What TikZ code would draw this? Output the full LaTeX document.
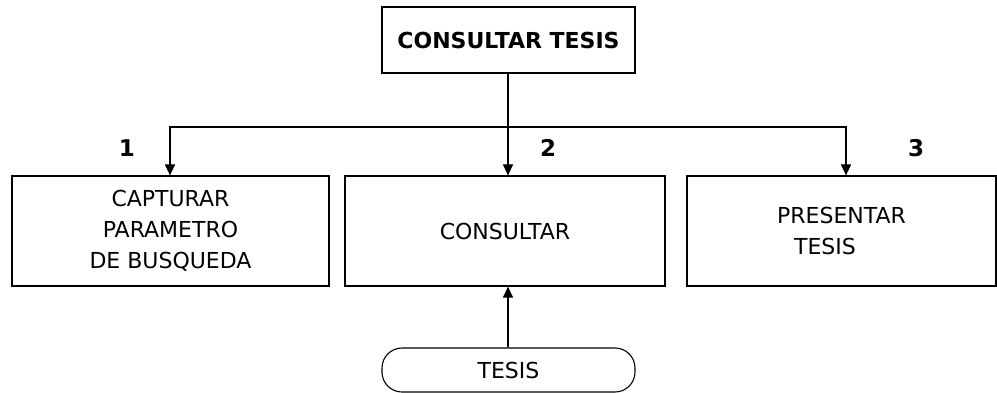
\documentclass[tikz,border=0pt]{standalone}
\usepackage{fontspec}
\setmainfont{DejaVu Sans}
\usepackage{tikz}
\usetikzlibrary{positioning, calc, arrows.meta}

\tikzset{
  proc/.style={draw, line width=1.2pt, align=center, inner sep=0pt,
    font=\fontsize{22}{31}\selectfont},
  tnum/.style={font=\bfseries\fontsize{23}{26}\selectfont},
  store/.style={draw, line width=1.1pt, rounded corners=20pt, inner sep=0pt,
    font=\fontsize{22}{26}\selectfont}
}

\begin{document}
\begin{tikzpicture}[x=1pt, y=-1pt, >={Triangle[length=11pt,width=10pt]}]
        \useasboundingbox (0,0) rectangle (997,392);

        % Main box
        \node[proc, minimum width=253pt, minimum height=66pt,
          font=\bfseries\fontsize{22}{26}\selectfont] (main) at (508.5,40) {CONSULTAR TESIS};

        % Sub processes
        \node[proc, minimum width=317pt, minimum height=110pt] (cap) at (170.5,231)
          {CAPTURAR\\PARAMETRO\\DE BUSQUEDA};
        \node[proc, minimum width=320pt, minimum height=110pt] (con) at (505,231) {CONSULTAR};
        \node[proc, minimum width=309pt, minimum height=110pt, align=left] (pre) at (841.5,231)
          {PRESENTAR\\\hspace*{17pt}TESIS};

        % Numbers
        \node[tnum] (n1) at (127,148) {1};
        \node[tnum] (n2) at (548,148) {2};
        \node[tnum] (n3) at (916,148) {3};

        % Data store
        \node[store, minimum width=253pt, minimum height=44pt] (tes) at (508.5,370) {TESIS};

        % Connections
        \coordinate (hub) at (508,127);
        \draw[line width=1.1pt] (main.south -| hub) -- (hub);
        \draw[line width=1.1pt, ->] (hub) -| ([xshift=-0.5pt]cap.north);
        \draw[line width=1.1pt, ->] (hub) -- (hub |- con.north);
        \draw[line width=1.1pt, ->] (hub) -| ([xshift=4.5pt]pre.north);
        \draw[line width=1.1pt, ->] (tes.north -| hub) -- (hub |- con.south);
    \end{tikzpicture}
\end{document}
